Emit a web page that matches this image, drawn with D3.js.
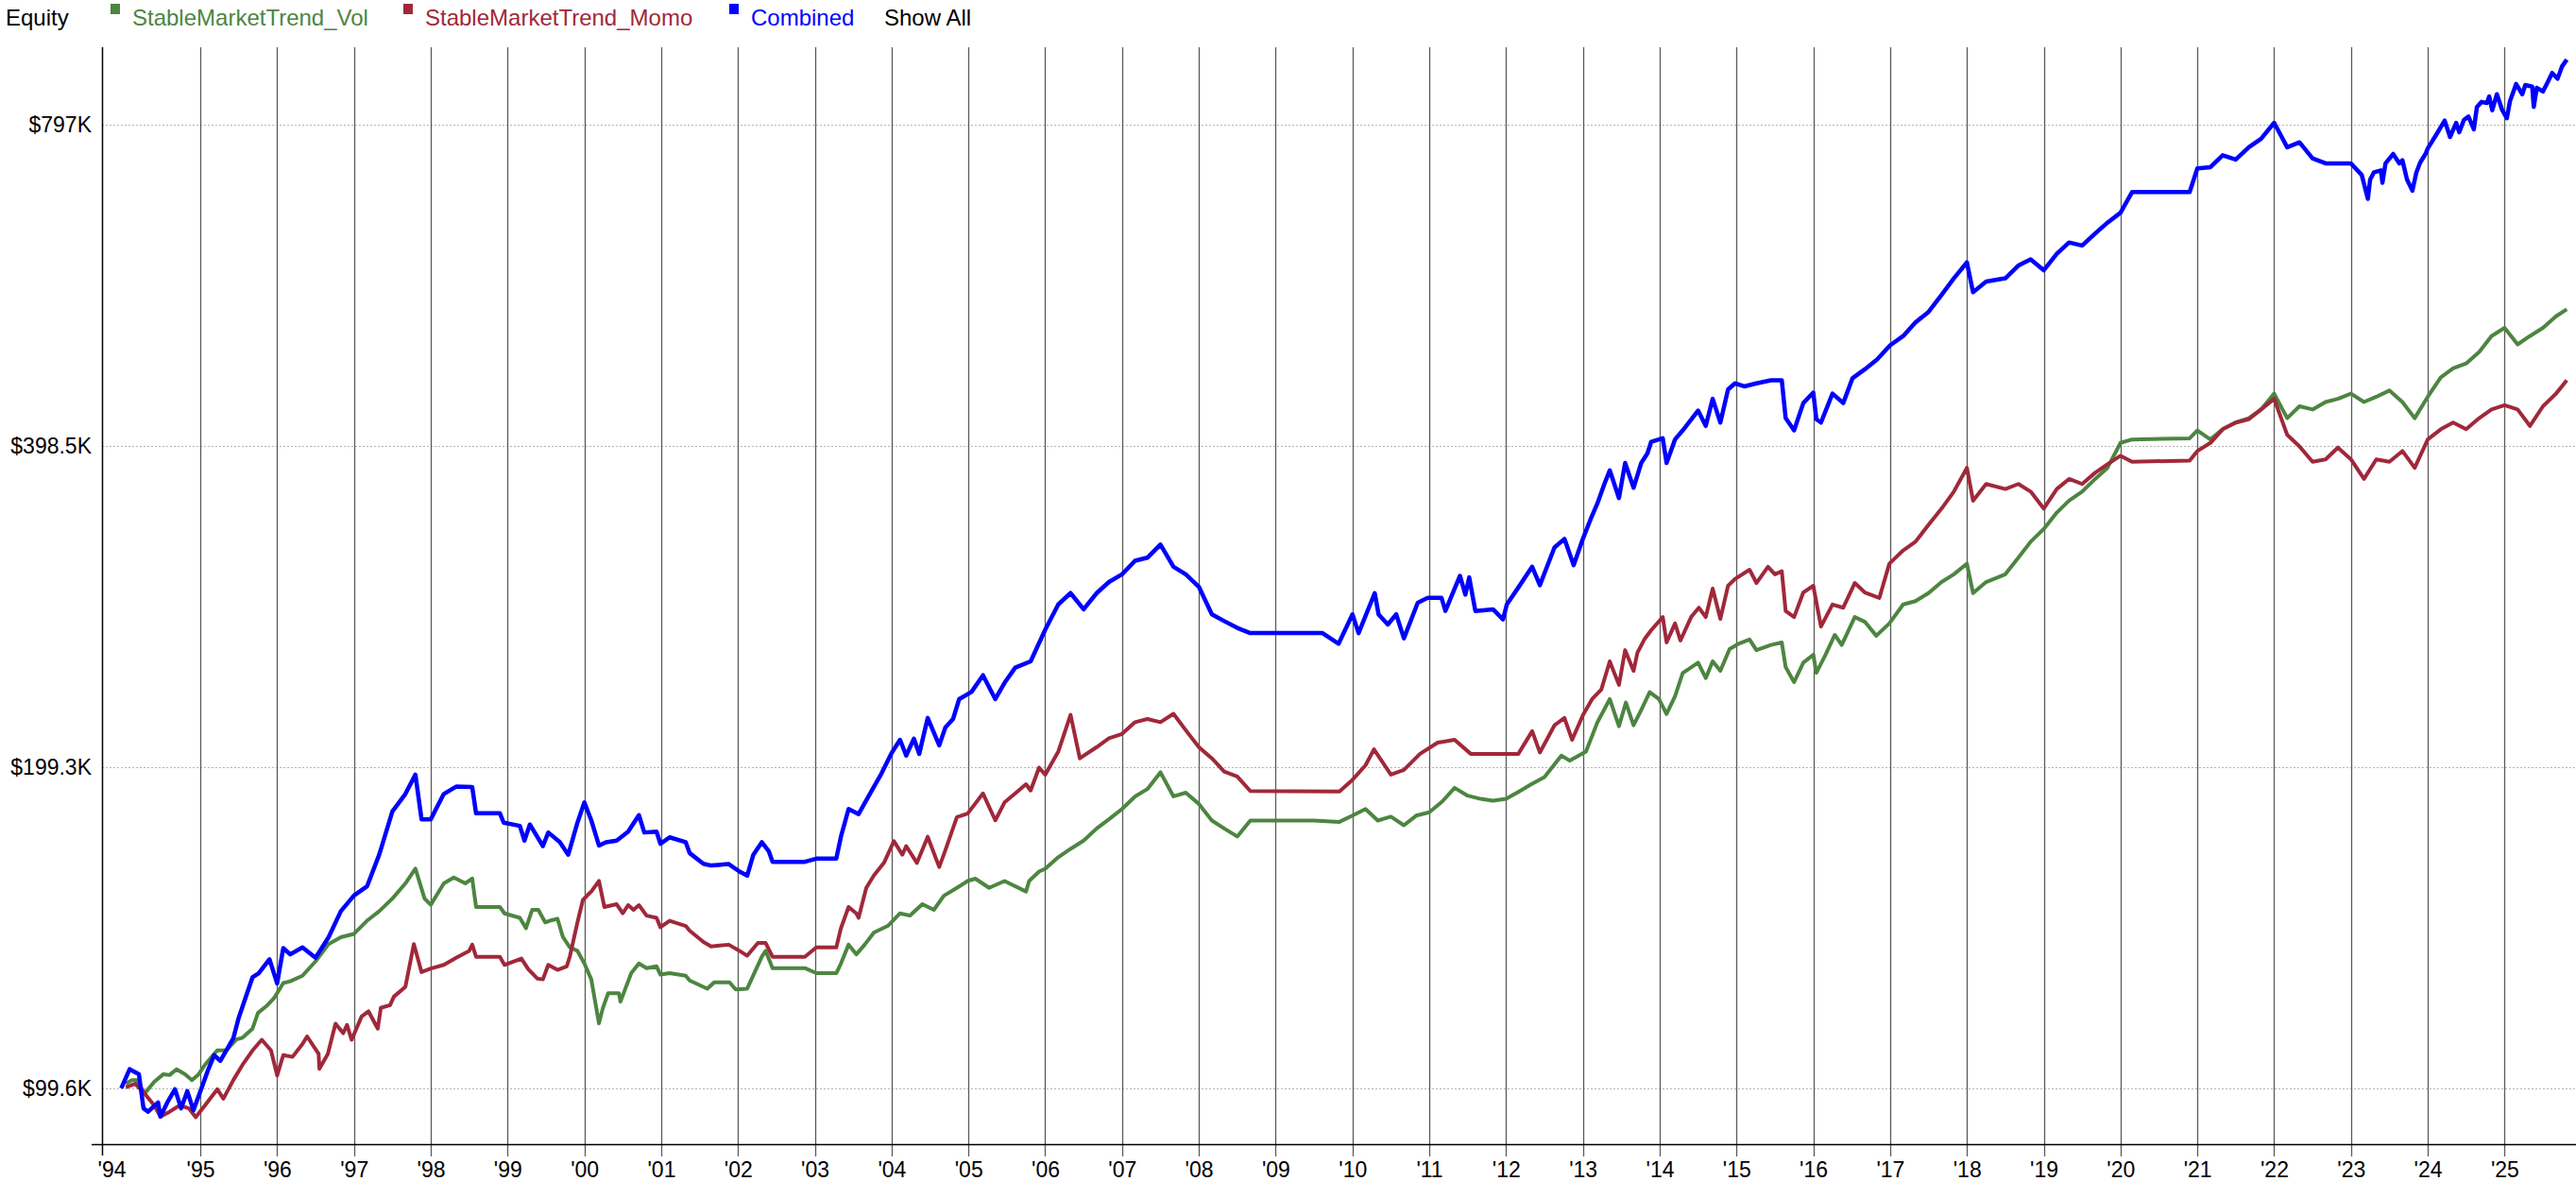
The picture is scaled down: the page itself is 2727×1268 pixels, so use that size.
<!DOCTYPE html>
<html>
<head>
<meta charset="utf-8">
<script src="https://cdn.jsdelivr.net/npm/d3@7"></script>
<style>
  body { margin: 0; background: #fff; }
  svg { display: block; font-family: "Liberation Sans", Arial, sans-serif; }
</style>
</head>
<body>
<script>
// ---- data: [year, equity in $K] ----
let seriesNames = ["StableMarketTrend_Vol", "StableMarketTrend_Momo", "Combined"];
let colors = ["#4d8541", "#a0283a", "#0000ff"];

let volPoints = [
  [1994.03,100.6],[1994.11,101.4],[1994.17,101.4],[1994.27,98.6],[1994.3,99],[1994.4,101],[1994.52,102.7],[1994.6,102.5],
  [1994.69,103.8],[1994.8,102.7],[1994.89,101.4],[1994.98,102.7],[1995.06,104.8],[1995.22,108.1],[1995.34,108.1],[1995.47,110.7],
  [1995.55,111.1],[1995.68,113.3],[1995.75,117.2],[1995.87,119.1],[1995.96,121],[1996.08,125],[1996.17,125.5],[1996.33,127],
  [1996.5,131],[1996.67,136],[1996.83,138],[1997.0,139],[1997.17,143],[1997.33,146],[1997.5,150],[1997.67,155],[1997.8,160],
  [1997.92,150],[1998.0,148],[1998.17,155],[1998.3,157],[1998.45,155],[1998.54,156.6],[1998.59,147.3],[1998.9,147.3],
  [1998.96,145.3],[1999.16,143.9],[1999.24,140.7],[1999.32,146.4],[1999.4,146.4],[1999.49,142.5],[1999.55,143],[1999.65,143.6],
  [1999.72,138.1],[1999.81,135],[1999.91,134],[2000.0,130.4],[2000.09,126],[2000.19,114.6],[2000.24,118.4],[2000.31,122.3],
  [2000.45,122.3],[2000.47,120.1],[2000.61,127.7],[2000.71,130.4],[2000.81,129.1],[2000.94,129.6],[2000.99,127.3],[2001.11,127.7],
  [2001.32,127],[2001.37,125.7],[2001.6,123.5],[2001.69,125.2],[2001.89,125.2],[2001.97,123.3],[2002.12,123.5],[2002.31,132.3],
  [2002.36,134],[2002.45,129.1],[2002.87,129.1],[2003.02,127.7],[2003.28,127.7],[2003.34,130.4],[2003.44,135.8],[2003.54,133],
  [2003.65,135.8],[2003.77,139.4],[2003.95,141.4],[2004.11,145.3],[2004.24,144.6],[2004.4,148.2],[2004.55,146.4],[2004.68,150.9],
  [2004.85,153.5],[2004.99,155.8],[2005.09,156.6],[2005.27,153.5],[2005.47,155.8],[2005.75,152.3],[2005.79,155.8],[2005.92,159],
  [2006.0,160],[2006.17,164],[2006.33,167],[2006.5,170],[2006.67,174.5],[2006.83,178],[2007.0,182],[2007.17,187],[2007.33,190],
  [2007.5,197],[2007.67,187],[2007.83,188.5],[2008.0,184],[2008.17,177.5],[2008.33,174.5],[2008.5,171.5],[2008.67,177.5],
  [2009.5,177.5],[2009.83,177],[2010.0,179.4],[2010.17,182],[2010.33,177.5],[2010.5,179],[2010.67,175.7],[2010.83,179.4],
  [2011.0,180.7],[2011.17,185],[2011.33,190.5],[2011.5,187.3],[2011.67,186],[2011.83,185.3],[2012.0,186],[2012.17,189],
  [2012.33,192],[2012.5,195],[2012.72,204.2],[2012.83,202],[2013.04,206],[2013.19,219.5],[2013.35,230.7],[2013.47,217.6],
  [2013.56,229],[2013.66,218],[2013.76,225.4],[2013.87,234.2],[2013.99,230.7],[2014.09,223.4],[2014.2,232.2],[2014.3,244],
  [2014.5,249.6],[2014.6,241.4],[2014.69,250.3],[2014.79,245.2],[2014.91,257],[2015.02,259.8],[2015.17,262.4],[2015.26,256.4],
  [2015.45,259.3],[2015.59,260.7],[2015.64,247.2],[2015.75,239.3],[2015.87,249.6],[2016.0,253.9],[2016.04,244.2],[2016.16,253.9],
  [2016.28,265],[2016.37,259.3],[2016.54,275.4],[2016.67,272.6],[2016.82,264.5],[2016.99,271.6],[2017.17,283],[2017.33,285],
  [2017.5,290],[2017.67,297],[2017.83,302],[2018.0,309],[2018.08,290],[2018.25,297],[2018.5,302],[2018.67,313],[2018.83,324],
  [2019.0,333],[2019.17,345],[2019.33,354],[2019.5,361],[2019.67,371],[2019.83,380],[2020.0,401],[2020.15,404],[2020.9,405],
  [2021.0,412],[2021.17,404],[2021.33,413],[2021.5,419],[2021.67,423],[2021.83,431],[2022.0,446],[2022.17,423],[2022.33,434],
  [2022.5,431],[2022.67,438],[2022.83,441],[2023.0,446],[2023.17,438],[2023.33,443],[2023.5,449],[2023.67,438],[2023.83,423],
  [2024.0,443],[2024.17,462],[2024.33,471],[2024.5,476],[2024.67,488],[2024.83,505],[2025.0,514],[2025.17,496],[2025.33,505],
  [2025.5,514],[2025.67,527],[2025.81,535]
];

let momoPoints = [
  [1994.03,99.8],[1994.15,100.6],[1994.27,98.6],[1994.4,96],[1994.48,93.7],[1994.6,94.7],[1994.73,96],[1994.85,95.4],
  [1994.94,93.6],[1995.06,96],[1995.22,99.4],[1995.3,97.4],[1995.43,101.4],[1995.55,104.8],[1995.68,108.1],[1995.8,110.6],
  [1995.92,108.1],[1996.0,102.4],[1996.08,107],[1996.2,106.6],[1996.33,109.6],[1996.39,111.4],[1996.54,107.3],[1996.55,103.9],
  [1996.66,107.3],[1996.76,114.5],[1996.86,112.2],[1996.91,114.2],[1996.97,110.6],[1997.1,116.3],[1997.19,117.6],[1997.31,113.3],
  [1997.35,118.5],[1997.47,119.2],[1997.52,121.4],[1997.67,124],[1997.78,136],[1997.88,128],[1998.0,129],[1998.17,130],
  [1998.33,132],[1998.5,134],[1998.54,135.8],[1998.59,132.3],[1998.9,132.3],[1998.96,130],[1999.18,131.8],[1999.27,128.8],
  [1999.39,126.2],[1999.46,126],[1999.53,130],[1999.65,128.6],[1999.77,129.6],[1999.81,132.3],[1999.91,142.5],[1999.98,149.5],
  [2000.04,151.1],[2000.09,152.3],[2000.19,155.8],[2000.26,147.3],[2000.42,148.2],[2000.5,145.3],[2000.57,147.9],[2000.64,146.4],
  [2000.71,147.9],[2000.81,144.6],[2000.94,143.9],[2000.99,141],[2001.11,143],[2001.32,141.4],[2001.37,140],[2001.55,136.6],
  [2001.65,135.3],[2001.88,135.8],[2002.02,134],[2002.12,132.6],[2002.26,136.3],[2002.36,136.3],[2002.45,132.3],[2002.87,132.3],
  [2003.02,135],[2003.28,135],[2003.34,140.7],[2003.44,147.3],[2003.54,145.3],[2003.57,143.9],[2003.67,153.5],[2003.77,157.7],
  [2003.9,162],[2004.03,169.8],[2004.14,164.9],[2004.19,168],[2004.33,162],[2004.47,171.4],[2004.62,160.6],[2004.7,166.5],
  [2004.85,178.8],[2004.99,180.2],[2005.19,188.2],[2005.35,177.6],[2005.47,184.6],[2005.61,188.2],[2005.75,192],[2005.81,189.4],
  [2005.92,199],[2006.0,196],[2006.17,206],[2006.33,223],[2006.45,203],[2006.67,208],[2006.83,212],[2007.0,214],[2007.17,219.5],
  [2007.33,221],[2007.5,219.5],[2007.67,223.5],[2007.83,215.7],[2008.0,208],[2008.17,203],[2008.33,197.3],[2008.5,195.2],
  [2008.67,189.2],[2009.83,189],[2010.0,193.8],[2010.17,200],[2010.28,207],[2010.5,196],[2010.67,198],[2010.88,205],
  [2011.11,210],[2011.33,211.3],[2011.54,205],[2012.16,205],[2012.34,215.3],[2012.44,205.6],[2012.63,218],[2012.76,221.5],
  [2012.86,211.3],[2013.0,222.8],[2013.12,230.7],[2013.24,235.5],[2013.35,250.3],[2013.47,237.9],[2013.55,256.4],[2013.66,245.2],
  [2013.71,255],[2013.8,262.4],[2013.89,267.7],[2014.04,275.4],[2014.09,260.7],[2014.2,271.6],[2014.27,261.8],[2014.41,275.4],
  [2014.51,281],[2014.6,275.4],[2014.69,292.8],[2014.79,274.3],[2014.89,294.6],[2014.98,298.9],[2015.17,305],[2015.26,296.4],
  [2015.41,307],[2015.5,302],[2015.59,304],[2015.64,279],[2015.75,275.4],[2015.87,290.4],[2016.0,294.6],[2016.1,269.8],
  [2016.25,282.9],[2016.39,281],[2016.54,296.4],[2016.67,290.4],[2016.86,287],[2016.99,309],[2017.17,318],[2017.33,324],
  [2017.5,336],[2017.67,348],[2017.83,361],[2018.0,380],[2018.08,354],[2018.25,367],[2018.5,363],[2018.67,367],[2018.83,361],
  [2019.0,348],[2019.17,363],[2019.33,371],[2019.5,367],[2019.67,376],[2019.83,383],[2020.0,390],[2020.15,385],[2020.9,386],
  [2021.0,394],[2021.17,401],[2021.33,413],[2021.5,419],[2021.67,422],[2021.83,431],[2022.0,441],[2022.17,408],[2022.33,398],
  [2022.5,385],[2022.67,387],[2022.83,397],[2023.0,387],[2023.17,371],[2023.33,387],[2023.5,385],[2023.67,394],[2023.83,380],
  [2024.0,404],[2024.17,413],[2024.33,419],[2024.5,413],[2024.67,423],[2024.83,431],[2025.0,435],[2025.17,431],[2025.33,416],
  [2025.5,434],[2025.67,446],[2025.81,459]
];

let combinedPoints = [
  [1993.97,99.6],[1994.08,103.8],[1994.2,102.7],[1994.26,95.4],[1994.32,94.7],[1994.45,96.6],[1994.48,93.7],[1994.57,96.6],
  [1994.67,99.4],[1994.75,95.4],[1994.83,99],[1994.91,95],[1995.01,99.4],[1995.1,103.6],[1995.18,107],[1995.26,105.7],
  [1995.43,111],[1995.5,116],[1995.68,126.6],[1995.76,127.7],[1995.9,131.6],[1996.0,124.9],[1996.08,134.8],[1996.17,133],
  [1996.33,135],[1996.5,132],[1996.67,138],[1996.83,146],[1997.0,151],[1997.17,154],[1997.33,165],[1997.5,181],[1997.67,188],
  [1997.8,196],[1997.88,178],[1998.0,178],[1998.17,188],[1998.33,191],[1998.54,190.8],[1998.59,180.3],[1998.9,180.3],
  [1998.95,176.7],[1999.16,175.5],[1999.22,170],[1999.29,176],[1999.46,168],[1999.53,173],[1999.68,169.5],[1999.79,164.9],
  [1999.91,176.7],[2000.0,184.6],[2000.09,177.6],[2000.19,168.2],[2000.28,169.4],[2000.42,170],[2000.57,173.3],[2000.71,179.6],
  [2000.78,173],[2000.94,173.3],[2000.99,168.8],[2001.11,171.2],[2001.32,169.4],[2001.37,165.5],[2001.55,161.7],[2001.65,161.1],
  [2001.88,161.6],[2002.02,159],[2002.12,157.6],[2002.2,164.9],[2002.31,169.4],[2002.4,166.2],[2002.45,162.4],[2002.87,162.4],
  [2003.02,163.5],[2003.28,163.5],[2003.34,171.4],[2003.44,182],[2003.57,180],[2003.72,188.2],[2003.86,196],[2004.0,205.4],
  [2004.11,211.3],[2004.19,204.2],[2004.29,211.8],[2004.36,205],[2004.47,221.5],[2004.62,208.8],[2004.7,217],[2004.8,221],
  [2004.88,230.7],[2005.04,234.3],[2005.19,242.9],[2005.35,230.7],[2005.47,238.9],[2005.61,246.9],[2005.81,250.3],[2006.0,268],
  [2006.17,283],[2006.33,290],[2006.5,280],[2006.67,290],[2006.83,297],[2007.0,302],[2007.17,311],[2007.33,313],[2007.5,322],
  [2007.67,307],[2007.83,302],[2008.0,294],[2008.17,277],[2008.33,273],[2008.5,269],[2008.67,266],[2009.5,266],[2009.61,266],
  [2009.82,260],[2010.0,277],[2010.08,266],[2010.29,290],[2010.34,277],[2010.46,271],[2010.57,277],[2010.67,263],[2010.85,284],
  [2010.98,287],[2011.16,287],[2011.21,279],[2011.4,301],[2011.47,289],[2011.52,300],[2011.6,279],[2011.83,280],[2011.96,274],
  [2012.01,283],[2012.18,295],[2012.34,307],[2012.44,295],[2012.63,320],[2012.76,326],[2012.88,308],[2013.0,326],[2013.1,340],
  [2013.19,352],[2013.28,367],[2013.35,378],[2013.47,356],[2013.55,384],[2013.66,364],[2013.76,384],[2013.84,392],[2013.89,402],
  [2014.04,405],[2014.09,384],[2014.2,404],[2014.3,412],[2014.5,430],[2014.6,416],[2014.69,441],[2014.79,419],[2014.89,450],
  [2014.98,456],[2015.1,453],[2015.26,456],[2015.45,459],[2015.59,459],[2015.64,423],[2015.75,412],[2015.87,437],[2016.0,447],
  [2016.04,422],[2016.1,419],[2016.25,446],[2016.39,437],[2016.51,461],[2016.67,470],[2016.83,480],[2017.0,495],[2017.17,505],
  [2017.33,520],[2017.5,532],[2017.67,552],[2017.83,572],[2018.0,592],[2018.08,555],[2018.25,568],[2018.5,572],[2018.67,588],
  [2018.83,596],[2019.0,582],[2019.17,603],[2019.33,618],[2019.5,614],[2019.67,630],[2019.83,645],[2020.0,659],[2020.15,689],
  [2020.9,689],[2021.0,725],[2021.17,727],[2021.33,746],[2021.5,739],[2021.67,759],[2021.83,773],[2022.0,800],[2022.17,759],
  [2022.33,767],[2022.5,741],[2022.67,733],[2022.83,733],[2023.0,733],[2023.14,715],[2023.22,679],[2023.25,708],[2023.3,719],
  [2023.39,722],[2023.41,703],[2023.45,733],[2023.55,748],[2023.63,733],[2023.67,738],[2023.73,708],[2023.8,691],[2023.85,718],
  [2023.9,734],[2023.97,748],[2024.0,757],[2024.13,784],[2024.22,804],[2024.29,776],[2024.37,800],[2024.41,784],[2024.47,805],
  [2024.53,811],[2024.6,789],[2024.64,828],[2024.7,837],[2024.77,835],[2024.8,847],[2024.84,822],[2024.9,851],[2024.97,822],
  [2025.03,808],[2025.07,838],[2025.15,870],[2025.23,851],[2025.27,868],[2025.36,865],[2025.38,828],[2025.42,863],[2025.5,856],
  [2025.56,873],[2025.62,891],[2025.69,880],[2025.75,904],[2025.81,917]
];

let yTicks = [99.6, 199.3, 398.5, 797];
let yTickLabels = ["$99.6K", "$199.3K", "$398.5K", "$797K"];
let xStart = 1993.72, xEnd = 2025.93;
let xTickYears = d3.range(1995, 2026);

// ---- layout ----
let w = 2727, h = 1268;
let padLeft = 108, padTop = 50, axisY = 1211;

let allSeries = [volPoints, momoPoints, combinedPoints].map((pts, k) => ({
  name: seriesNames[k],
  color: colors[k],
  values: pts
}));

let xScale = d3.scaleLinear()
  .domain([xStart, xEnd])
  .range([padLeft, w]);

let yScale = d3.scaleLog().base(2)
  .domain([88.3, 941.8])
  .range([axisY, padTop]);

let svg = d3.select("body").append("svg")
  .attr("width", w)
  .attr("height", h);

// horizontal dotted grid
svg.append("g")
  .selectAll("line")
  .data(yTicks)
  .enter().append("line")
  .attr("x1", padLeft).attr("x2", w)
  .attr("y1", d => Math.round(yScale(d)) + 0.5).attr("y2", d => Math.round(yScale(d)) + 0.5)
  .attr("stroke", "#b4b4b4")
  .attr("stroke-dasharray", "2,2")
  .attr("stroke-width", 1);

// vertical year grid
svg.append("g")
  .selectAll("line")
  .data(xTickYears)
  .enter().append("line")
  .attr("x1", d => Math.round(xScale(d)) + 0.5).attr("x2", d => Math.round(xScale(d)) + 0.5)
  .attr("y1", padTop).attr("y2", axisY + 13)
  .attr("stroke", "#5a5a5a")
  .attr("stroke-width", 1.3);

// x axis labels
let xAxis = d3.axisBottom(xScale)
  .tickValues([xStart].concat(xTickYears))
  .tickSize(0)
  .tickPadding(19)
  .tickFormat((d, i) => "'" + String(i === 0 ? 1994 : d).slice(2));

let gx = svg.append("g")
  .attr("transform", "translate(0," + axisY + ")")
  .call(xAxis);
gx.select(".domain").remove();
gx.selectAll("text")
  .style("font-size", "23px")
  .style("font-family", "'Liberation Sans', Arial, sans-serif")
  .attr("fill", "#000");
gx.select(".tick text").attr("x", 10);

// y axis labels
let yAxis = d3.axisLeft(yScale)
  .tickValues(yTicks)
  .tickSize(0)
  .tickPadding(11)
  .tickFormat((d, i) => yTickLabels[i]);

let gy = svg.append("g")
  .attr("transform", "translate(" + padLeft + ",0)")
  .call(yAxis);
gy.select(".domain").remove();
gy.selectAll("text")
  .style("font-size", "23px")
  .style("font-family", "'Liberation Sans', Arial, sans-serif")
  .attr("fill", "#000");

// axis lines
svg.append("line")
  .attr("x1", padLeft - 11).attr("x2", w)
  .attr("y1", axisY + 0.5).attr("y2", axisY + 0.5)
  .attr("stroke", "#000").attr("stroke-width", 1.5);
svg.append("line")
  .attr("x1", padLeft + 0.5).attr("x2", padLeft + 0.5)
  .attr("y1", padTop).attr("y2", axisY + 12)
  .attr("stroke", "#000").attr("stroke-width", 1.5);

// series lines
let line = d3.line()
  .x(d => xScale(d[0]))
  .y(d => yScale(d[1]));

svg.append("g")
  .selectAll("path")
  .data(allSeries)
  .enter().append("path")
  .attr("d", d => line(d.values))
  .attr("fill", "none")
  .attr("stroke", d => d.color)
  .attr("stroke-width", (d, i) => i === 2 ? 4.5 : 4)
  .attr("stroke-linejoin", "round");

// legend
let legend = svg.append("g")
  .style("font-size", "24px");

legend.append("text")
  .attr("x", 6).attr("y", 27)
  .attr("fill", "#000")
  .text("Equity");

let legendX = [117, 427, 772];
let item = legend.selectAll(".legend")
  .data(allSeries)
  .enter().append("g")
  .attr("class", "legend")
  .attr("transform", (d, i) => "translate(" + legendX[i] + ",0)");

item.append("rect")
  .attr("x", 0).attr("y", 4)
  .attr("width", 10).attr("height", 11)
  .attr("fill", d => d.color);

item.append("text")
  .attr("x", 23).attr("y", 27)
  .attr("fill", d => d.color)
  .text(d => d.name);

legend.append("text")
  .attr("x", 936).attr("y", 27)
  .attr("fill", "#000")
  .text("Show All");
</script>
</body>
</html>
